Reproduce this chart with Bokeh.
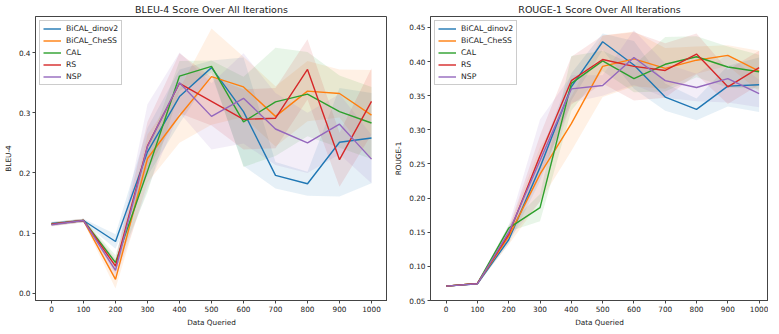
from bokeh.plotting import figure
from bokeh.layouts import row
from bokeh.models import Range1d, FixedTicker, NumeralTickFormatter, Legend
from bokeh.embed import file_html
from bokeh.resources import INLINE

x_queried = [0, 100, 200, 300, 400, 500, 600, 700, 800, 900, 1000]
methods = ["BiCAL_dinov2", "BiCAL_CheSS", "CAL", "RS", "NSP"]
colors = ["#1f77b4", "#ff7f0e", "#2ca02c", "#d62728", "#9467bd"]

# BLEU-4 means
bleu_dinov2 = [0.116, 0.121, 0.086, 0.235, 0.327, 0.375, 0.302, 0.196, 0.182, 0.251, 0.258]
bleu_chess = [0.115, 0.121, 0.023, 0.224, 0.295, 0.360, 0.343, 0.294, 0.336, 0.332, 0.296]
bleu_cal = [0.115, 0.121, 0.051, 0.203, 0.361, 0.377, 0.285, 0.318, 0.331, 0.302, 0.283]
bleu_rs = [0.115, 0.121, 0.045, 0.245, 0.349, 0.319, 0.289, 0.291, 0.372, 0.222, 0.319]
bleu_nsp = [0.114, 0.121, 0.038, 0.244, 0.350, 0.294, 0.324, 0.273, 0.250, 0.281, 0.223]
# BLEU-4 std
bleu_dinov2_sd = [0.003, 0.003, 0.012, 0.040, 0.045, 0.012, 0.090, 0.022, 0.020, 0.090, 0.075]
bleu_chess_sd = [0.003, 0.003, 0.015, 0.040, 0.045, 0.080, 0.050, 0.050, 0.050, 0.040, 0.075]
bleu_cal_sd = [0.003, 0.003, 0.012, 0.035, 0.025, 0.010, 0.075, 0.090, 0.070, 0.060, 0.060]
bleu_rs_sd = [0.003, 0.003, 0.012, 0.040, 0.050, 0.040, 0.050, 0.050, 0.050, 0.045, 0.055]
bleu_nsp_sd = [0.003, 0.003, 0.015, 0.070, 0.050, 0.055, 0.075, 0.060, 0.050, 0.050, 0.040]

# ROUGE-1 means
rouge_dinov2 = [0.071, 0.0745, 0.139, 0.245, 0.363, 0.429, 0.395, 0.348, 0.330, 0.364, 0.366]
rouge_chess = [0.071, 0.075, 0.144, 0.235, 0.309, 0.393, 0.404, 0.390, 0.402, 0.409, 0.386]
rouge_cal = [0.071, 0.075, 0.156, 0.186, 0.368, 0.401, 0.375, 0.396, 0.407, 0.392, 0.385]
rouge_rs = [0.071, 0.075, 0.147, 0.262, 0.372, 0.403, 0.393, 0.387, 0.411, 0.363, 0.391]
rouge_nsp = [0.071, 0.0745, 0.150, 0.255, 0.360, 0.365, 0.406, 0.372, 0.362, 0.375, 0.353]
# ROUGE-1 std
rouge_dinov2_sd = [0.001, 0.001, 0.006, 0.020, 0.020, 0.012, 0.035, 0.020, 0.016, 0.030, 0.040]
rouge_chess_sd = [0.001, 0.001, 0.012, 0.040, 0.040, 0.045, 0.040, 0.030, 0.020, 0.015, 0.030]
rouge_cal_sd = [0.001, 0.001, 0.005, 0.020, 0.040, 0.015, 0.020, 0.040, 0.030, 0.030, 0.025]
rouge_rs_sd = [0.001, 0.001, 0.008, 0.030, 0.035, 0.035, 0.050, 0.040, 0.030, 0.025, 0.025]
rouge_nsp_sd = [0.001, 0.001, 0.010, 0.060, 0.020, 0.015, 0.040, 0.025, 0.020, 0.035, 0.020]

bleu_ticks = [0.0, 0.1, 0.2, 0.3, 0.4]
rouge_ticks = [0.05, 0.10, 0.15, 0.20, 0.25, 0.30, 0.35, 0.40, 0.45]

FONT = "DejaVu Sans"


def make_plot(title, ylabel, means, sds, xr, yr, yticks, yfmt, fw, mbl):
    p = figure(frame_width=fw, frame_height=284, output_backend="svg", toolbar_location=None,
               x_range=Range1d(*xr), y_range=Range1d(*yr),
               min_border_left=mbl, min_border_right=0, min_border_top=0, min_border_bottom=0)
    p.title.text = title
    p.title.align = "center"
    p.title.text_font = FONT
    p.title.text_font_size = "9.5px"
    p.title.text_font_style = "normal"
    p.title.text_color = "#222222"
    p.title.standoff = 3
    p.xgrid.visible = False
    p.ygrid.visible = False
    p.outline_line_color = "#444444"
    p.outline_line_width = 1
    p.outline_line_alpha = 1

    items = []
    for name, c, m, s in zip(methods, colors, means, sds):
        lo = [a - b for a, b in zip(m, s)]
        hi = [a + b for a, b in zip(m, s)]
        p.varea(x=x_queried, y1=lo, y2=hi, fill_color=c, fill_alpha=0.11)
    for name, c, m, s in zip(methods, colors, means, sds):
        r = p.line(x=x_queried, y=m, line_color=c, line_width=1.4)
        items.append((name, [r]))

    leg = Legend(items=items, location="top_left")
    leg.label_text_font = FONT
    leg.label_text_font_size = "7.7px"
    leg.label_text_color = "#222222"
    leg.glyph_width = 18
    leg.glyph_height = 9
    leg.label_height = 9
    leg.spacing = 3
    leg.padding = 3
    leg.margin = 4
    leg.label_standoff = 5
    leg.border_line_color = "#cccccc"
    leg.border_line_alpha = 1
    leg.background_fill_alpha = 0.8
    p.add_layout(leg)

    for ax in (p.xaxis, p.yaxis):
        ax.major_label_text_font = FONT
        ax.major_label_text_font_size = "7.3px"
        ax.major_label_text_color = "#222222"
        ax.axis_label_text_font = FONT
        ax.axis_label_text_font_size = "7.3px"
        ax.axis_label_text_font_style = "normal"
        ax.axis_label_text_color = "#222222"
        ax.major_tick_out = 3
        ax.major_tick_in = 0
        ax.minor_tick_out = 0
        ax.minor_tick_in = 0
        ax.major_label_standoff = 2
        ax.axis_label_standoff = 3
        ax.axis_line_color = "#444444"
        ax.major_tick_line_color = "#444444"
    p.xaxis.axis_label = "Data Queried"
    p.yaxis.axis_label = ylabel
    p.xaxis.ticker = FixedTicker(ticks=x_queried)
    p.yaxis.ticker = FixedTicker(ticks=yticks)
    p.yaxis.formatter = NumeralTickFormatter(format=yfmt)
    return p


p1 = make_plot("BLEU-4 Score Over All Iterations", "BLEU-4",
               [bleu_dinov2, bleu_chess, bleu_cal, bleu_rs, bleu_nsp],
               [bleu_dinov2_sd, bleu_chess_sd, bleu_cal_sd, bleu_rs_sd, bleu_nsp_sd],
               (-50, 1050), (-0.012, 0.46), bleu_ticks, "0.0", 352, 30)
p2 = make_plot("ROUGE-1 Score Over All Iterations", "ROUGE-1",
               [rouge_dinov2, rouge_chess, rouge_cal, rouge_rs, rouge_nsp],
               [rouge_dinov2_sd, rouge_chess_sd, rouge_cal_sd, rouge_rs_sd, rouge_nsp_sd],
               (-50, 1030), (0.05, 0.466), rouge_ticks, "0.00", 338, 43)

layout = row(p1, p2)
open("out.html", "w").write(file_html(layout, INLINE))
